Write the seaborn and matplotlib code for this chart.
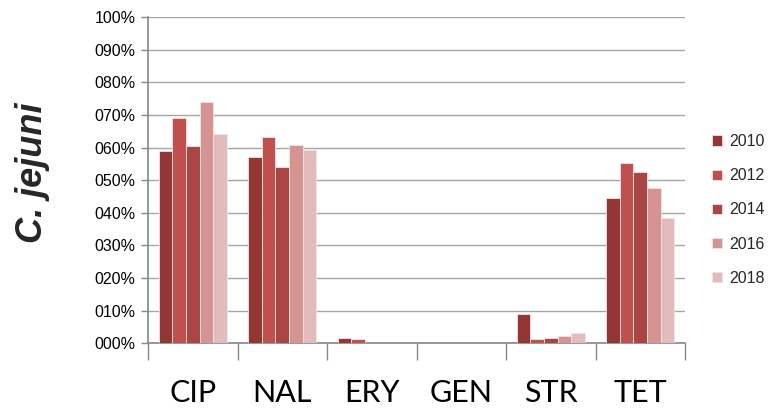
import matplotlib
matplotlib.use("Agg")
import matplotlib.pyplot as plt
import seaborn as sns
import pandas as pd
import numpy as np
from matplotlib.ticker import FuncFormatter, FixedLocator

categories = ["CIP", "NAL", "ERY", "GEN", "STR", "TET"]
years = ["2010", "2012", "2014", "2016", "2018"]
v2010 = [0.589, 0.571, 0.016, 0.0, 0.089, 0.446]
v2012 = [0.692, 0.631, 0.014, 0.0, 0.014, 0.554]
v2014 = [0.605, 0.541, 0.0, 0.0, 0.016, 0.524]
v2016 = [0.739, 0.609, 0.0, 0.0, 0.021, 0.477]
v2018 = [0.642, 0.592, 0.0, 0.0, 0.032, 0.383]
colors = ["#943634", "#C0504D", "#A94543", "#D59391", "#E2BCBC"]

series = [v2010, v2012, v2014, v2016, v2018]
rows = []
for y, vals in zip(years, series):
    for c, v in zip(categories, vals):
        rows.append({"cat": c, "year": y, "val": v})
df = pd.DataFrame(rows)

sns.set_style("white")
plt.rcParams["font.family"] = ["Lato", "DejaVu Sans"]

fig = plt.figure(figsize=(7.69, 4.08), dpi=100)
ax = fig.add_axes([148/769, 1-343.3/408, (685-148)/769, (343.3-17)/408])

sns.barplot(data=df, x="cat", y="val", hue="year", order=categories,
            hue_order=years, palette=colors, saturation=1, width=0.765, gap=0,
            edgecolor="#F2E4E4", linewidth=0.6, ax=ax, legend=True, zorder=3)

ax.set_ylim(0, 1.0)
ax.set_xlim(-0.5, 5.5)
ax.yaxis.set_major_locator(FixedLocator(np.arange(0, 1.01, 0.1)))
ax.yaxis.set_major_formatter(FuncFormatter(lambda v, p: f"{int(round(v*100)):03d}%"))
ax.grid(axis="y", color="#A6A6A6", linewidth=1.0, zorder=0)
ax.set_axisbelow(True)

for s in ["top", "right"]:
    ax.spines[s].set_visible(False)
for s in ["left", "bottom"]:
    ax.spines[s].set_color("#868686")
    ax.spines[s].set_linewidth(1.2)

ax.tick_params(axis="y", which="major", left=True, length=5, width=1, color="#868686",
               labelsize=11.5, pad=4, labelcolor="#000000")
for lab in ax.get_yticklabels():
    lab.set_fontfamily(["Liberation Sans", "DejaVu Sans"])
ax.set_xticks(np.arange(-0.5, 6.0, 1.0), minor=True)
ax.tick_params(axis="x", which="minor", bottom=True, length=12, width=1, color="#868686")
ax.tick_params(axis="x", which="major", bottom=False, length=0, labelsize=22, pad=26,
               labelcolor="#000000")

ax.set_xlabel("")
ax.set_ylabel("")
fig.text(32/769, 1-173/408, "C. jejuni", rotation=90, ha="center", va="center",
         fontsize=26, fontweight="bold", fontstyle="italic",
         family=["Liberation Sans", "DejaVu Sans"])

leg = ax.get_legend()
handles = leg.legend_handles
leg.remove()
fig.legend(handles, years, loc="center left", bbox_to_anchor=(712/769, 1-210/408),
           frameon=False, handlelength=0.6, handleheight=0.6,
           handletextpad=0.45, labelspacing=1.2, borderpad=0, borderaxespad=0,
           prop={"family": ["Liberation Sans", "DejaVu Sans"], "size": 11.5})

fig.savefig("out.png", dpi=100)
